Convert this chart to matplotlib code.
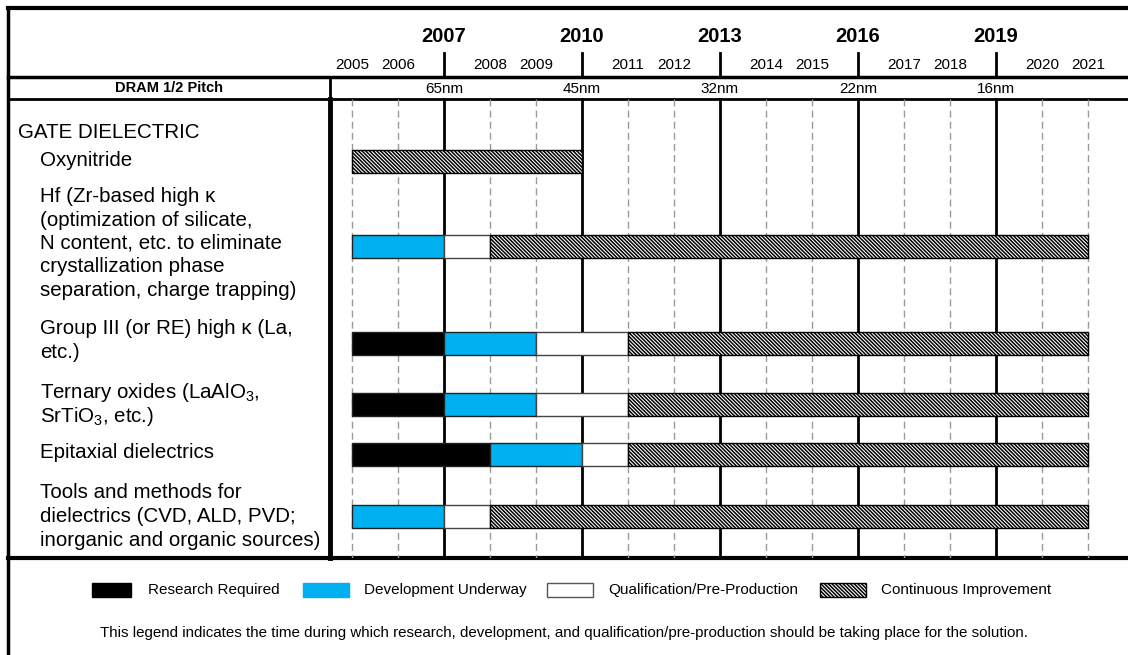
import matplotlib
matplotlib.use("Agg")
import matplotlib.pyplot as plt
from matplotlib.patches import Rectangle

plt.rcParams['font.family'] = ['Liberation Sans', 'DejaVu Sans']
plt.rcParams['mathtext.fontset'] = 'custom'
plt.rcParams['mathtext.rm'] = 'Liberation Sans'
plt.rcParams['mathtext.it'] = 'Liberation Sans:italic'
plt.rcParams['hatch.linewidth'] = 1.1

# timeline
years = list(range(2005, 2022))
major_years = [2007, 2010, 2013, 2016, 2019]
pitch_labels = ['65nm', '45nm', '32nm', '22nm', '16nm']

# rows (label lines, bar row)
section = 'GATE DIELECTRIC'
items = [
    ['Oxynitride'],
    ['Hf (Zr-based high κ', '(optimization of silicate,', 'N content, etc. to eliminate',
     'crystallization phase', 'separation, charge trapping)'],
    ['Group III (or RE) high κ (La,', 'etc.)'],
    ['Ternary oxides (LaAlO$_3$,', 'SrTiO$_3$, etc.)'],
    ['Epitaxial dielectrics'],
    ['Tools and methods for', 'dielectrics (CVD, ALD, PVD;', 'inorganic and organic sources)'],
]

# phase spans per row (start year, end year)
research = [None, None, (2005, 2007), (2005, 2007), (2005, 2008), None]
development = [None, (2005, 2007), (2007, 2009), (2007, 2009), (2008, 2010), (2005, 2007)]
qualification = [None, (2007, 2008), (2009, 2011), (2009, 2011), (2010, 2011), (2007, 2008)]
continuous = [(2005, 2010), (2008, 2021), (2011, 2021), (2011, 2021), (2011, 2021), (2008, 2021)]

legend_names = ['Research Required', 'Development Underway',
                'Qualification/Pre-Production', 'Continuous Improvement']
footnote = ('This legend indicates the time during which research, development, and '
            'qualification/pre-production should be taking place for the solution.')

# layout (pixels)
W, H = 1128, 655
PX_YEAR = 46
X0 = 352
top, hdr, pitch_bot, body_bot = 8, 77, 99, 558
col_x, left_x = 330, 8
bar_y = [161.5, 246.5, 343.5, 404.5, 454.5, 516]
text_y = [[160], [196, 220, 243, 267, 291], [328, 353], [392, 417], [453], [492, 516, 540]]
bar_h = 23
HATCH = '\\' * 9

def yr(px):
    return 2005 + (px - X0) / PX_YEAR

fig = plt.figure(figsize=(W / 100, H / 100), dpi=100)
ax = fig.add_axes([0, 0, 1, 1])
ax.set_xlim(0, W)
ax.set_ylim(H, 0)
ax.axis('off')

tl = fig.add_axes([col_x / W, (H - body_bot) / H, (W - col_x) / W, (body_bot - top) / H])
tl.set_xlim(yr(col_x), yr(W))
tl.set_ylim(body_bot, top)
tl.axis('off')

# grid lines in body
for y in years:
    if y in major_years:
        tl.plot([y, y], [pitch_bot, body_bot], color='black', lw=2, zorder=1)
        tl.plot([y, y], [53, hdr], color='black', lw=2, zorder=1)
    else:
        tl.plot([y, y], [pitch_bot, body_bot], color='#9a9a9a', lw=1,
                dashes=(5, 3), zorder=1)

# header text
for y in major_years:
    tl.text(y, 36, str(y), ha='center', va='center', fontsize=14.5, fontweight='bold')
for y in years:
    if y not in major_years:
        tl.text(y, 65, str(y), ha='center', va='center', fontsize=11)
for y, lab in zip(major_years, pitch_labels):
    tl.text(y, 88.5, lab, ha='center', va='center', fontsize=11)

# bars
styles = [
    (research, dict(facecolor='black', edgecolor='#222222')),
    (development, dict(facecolor='#00b0f0', edgecolor='#222222')),
    (qualification, dict(facecolor='white', edgecolor='#444444')),
    (continuous, dict(facecolor='white', edgecolor='black', hatch=HATCH)),
]
for spans, st in styles:
    for i, sp in enumerate(spans):
        if sp is None:
            continue
        tl.broken_barh([(sp[0], sp[1] - sp[0])], (bar_y[i] - bar_h / 2, bar_h),
                       linewidth=1, zorder=3, **st)

# frame lines
ax.plot([left_x, W], [top, top], color='black', lw=3)
ax.plot([left_x, W], [hdr, hdr], color='black', lw=2.5)
ax.plot([left_x, W], [pitch_bot, pitch_bot], color='black', lw=2)
ax.plot([left_x, W], [body_bot, body_bot], color='black', lw=3)
ax.plot([left_x, left_x], [top, H], color='black', lw=2.5)
ax.plot([col_x, col_x], [hdr, pitch_bot], color='black', lw=2)
ax.plot([col_x, col_x], [pitch_bot, body_bot], color='black', lw=3.5)

# left column text
ax.text((left_x + col_x) / 2, 88.5, 'DRAM 1/2 Pitch', ha='center', va='center',
        fontsize=10.5, fontweight='bold')
ax.text(18, 133, section, ha='left', va='center', fontsize=14.8)
for lines, ys in zip(items, text_y):
    for line, y in zip(lines, ys):
        ax.text(40, y, line, ha='left', va='center', fontsize=14.8)

# legend
leg_box_x = [92, 303, 547, 820]
leg_w = [39, 46, 46, 46]
leg_style = [('black', 'black', None), ('#00b0f0', '#00b0f0', None),
             ('white', '#555555', None), ('white', 'black', HATCH)]
for i, name in enumerate(legend_names):
    fc, ec, hatch = leg_style[i]
    ax.add_patch(Rectangle((leg_box_x[i], 583), leg_w[i], 14, facecolor=fc,
                           edgecolor=ec, hatch=hatch, lw=1))
    ax.text(leg_box_x[i] + 56 if i == 0 else leg_box_x[i] + 61, 590, name,
            ha='left', va='center', fontsize=11)
ax.text(564, 633, footnote, ha='center', va='center', fontsize=10.9)

fig.savefig('out.png', dpi=100)
